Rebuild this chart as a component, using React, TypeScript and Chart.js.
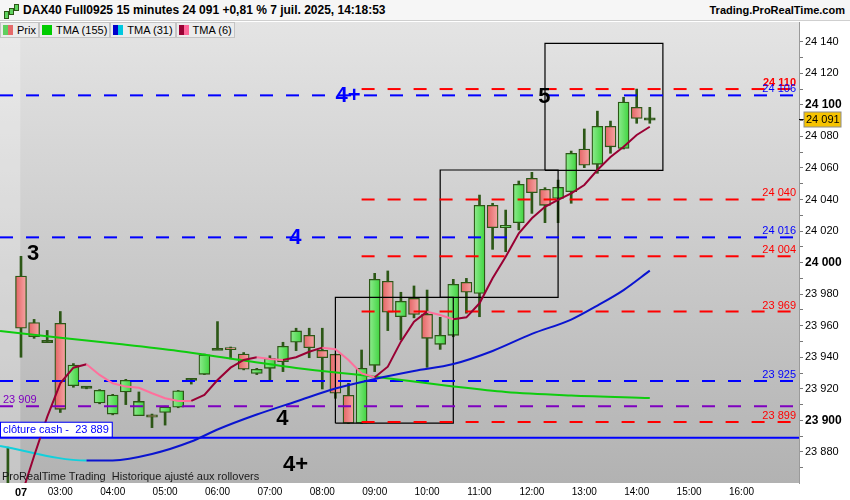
import React, { useEffect, useRef } from 'react';
import { Chart, registerables } from 'chart.js';

Chart.register(...registerables);

const FONT = '"Liberation Sans", Arial, Helvetica, sans-serif';

// ---- candles (15 min) : index -1 = last candle of previous day
const candleIndex = [-1, 0, 1, 2, 3, 4, 5, 6, 7, 8, 9, 10, 11, 12, 13, 14, 15, 16, 17, 18, 19, 20, 21, 22, 23, 24, 25, 26, 27, 28, 29, 30, 31, 32, 33, 34, 35, 36, 37, 38, 39, 40, 41, 42, 43, 44, 45, 46, 47, 48];
const opens = [23850, 23991.5, 23962, 23950, 23961.5, 23922, 23921, 23911, 23904, 23918, 23903, 23903.5, 23905, 23908.3, 23926, 23929.2, 23945, 23946, 23942, 23929.8, 23933, 23937.2, 23949.5, 23953.9, 23944.4, 23941.9, 23915.9, 23898.2, 23934.9, 23988.2, 23965.7, 23977.4, 23967.2, 23948.2, 23953.9, 23987.5, 23980.5, 24036.3, 24022.1, 24025.3, 24053.4, 24046.5, 24040.7, 24045, 24072, 24062.3, 24086.4, 24072.4, 24098.4, 24091];
const highs = [23883, 24004, 23964, 23957, 23969, 23936, 23921.5, 23919.5, 23916.5, 23926, 23918, 23904, 23909, 23919, 23926.5, 23942, 23962.6, 23946.5, 23943, 23933, 23941, 23949.5, 23958.4, 23958.4, 23958.4, 23942, 23923.5, 23944.6, 23993.2, 23994.7, 23981.2, 23985.2, 23982.6, 23965.3, 23989.4, 23990, 24042.8, 24037.6, 24033.3, 24051.7, 24057.2, 24047.5, 24052.3, 24070.7, 24084.7, 24096, 24089.7, 24104.8, 24110, 24098.4];
const lows = [23835, 23940, 23952, 23950, 23905, 23921, 23920, 23910.5, 23903.5, 23910, 23903, 23895.4, 23897, 23908, 23923, 23929, 23945, 23939, 23932, 23929, 23925.6, 23930.9, 23944.2, 23939.7, 23919.9, 23914, 23898, 23898, 23930.9, 23956.9, 23951, 23965, 23933.6, 23945, 23953, 23967.9, 23965.7, 24008.4, 24006.9, 24020.7, 24031.2, 24025.3, 24025.3, 24037.6, 24060.2, 24056.6, 24069.3, 24072, 24088.3, 24088.3];
const closes = [23845, 23958.4, 23953, 23950, 23907, 23935, 23921, 23919, 23916, 23925.4, 23912, 23902, 23908.5, 23918.8, 23926, 23941.6, 23945, 23945, 23932.4, 23932.4, 23939.3, 23947, 23956.7, 23946, 23939.7, 23917.2, 23898.2, 23933, 23989.4, 23968.5, 23975.5, 23967.2, 23952, 23953.9, 23986.2, 23981.2, 24036.3, 24022.1, 24023.6, 24049.6, 24044.3, 24036.3, 24047.7, 24069.3, 24061.7, 24086.4, 24073.4, 24101.8, 24091.4, 24091];

// ---- moving averages
const tma6Index = [0, 1, 2, 3, 4, 5, 6, 7, 8, 9, 10, 11, 12, 13, 14, 15, 16, 17, 18, 19, 20, 21, 22, 23, 24, 25, 26, 27, 28, 29, 30, 31, 32, 33, 34, 35, 36, 37, 38, 39, 40, 41, 42, 43, 44, 45, 46, 47, 48];
const tma6Values = [23851.5, 23877.4, 23902.2, 23923.5, 23933.4, 23935.6, 23928.8, 23923.5, 23921.4, 23920.7, 23917.2, 23914, 23912.3, 23912.3, 23916.1, 23925.6, 23933.4, 23938.3, 23940, 23938.9, 23938.3, 23940, 23943.5, 23946.1, 23945.1, 23938.3, 23929.8, 23927.3, 23934, 23949.9, 23962.5, 23968.9, 23966.8, 23964.1, 23965.3, 23974.2, 23990.1, 24003.7, 24018.6, 24028.1, 24035.4, 24039.7, 24043.9, 24049.2, 24058.7, 24066.9, 24073.4, 24080.9, 24086.1];
const tma31Index = [-1.6, 5, 7, 10, 13, 15, 18, 21, 24, 27, 30, 33, 36, 39, 42, 44, 46, 48];
const tma31Values = [23883.8, 23874.5, 23874.6, 23878.7, 23886.6, 23894.2, 23903.7, 23912, 23920.2, 23926.2, 23931.3, 23935.7, 23944, 23954.8, 23963.9, 23972.8, 23982.6, 23994.9];
const tma155Index = [-1.6, 3, 7.5, 12, 17, 21, 27, 33, 37, 42, 48];
const tma155Values = [23956.7, 23952.4, 23948.4, 23944, 23938, 23933.2, 23927.7, 23921.5, 23918, 23915.8, 23914.2];

// ---- horizontal levels
const levelValues = [24110, 24106, 24040, 24016, 24004, 23969, 23925, 23909, 23899, 23889];
const levelLabels = ['24 110', '24 106', '24 040', '24 016', '24 004', '23 969', '23 925', '23 909', '23 899', 'clôture cash -  23 889'];
const levelStart = [26, null, 26, null, 26, 26, null, null, 26, null];
const levelKind = ['red', 'blue', 'red', 'blue', 'red', 'red', 'blue', 'purple', 'red', 'cash'];

// ---- boxes
const boxStart = [24, 32, 40];
const boxEnd = [33, 41, 49];
const boxLow = [23898.2, 23978, 24058.5];
const boxHigh = [23978, 24058.7, 24139];

// ---- wave labels
const noteText = ['3', '4+', '5', '4', '4', '4+'];
const noteIndex = [0.92, 24.96, 39.96, 20.95, 19.96, 20.95];
const noteValue = [24005.5, 24105.6, 24105.3, 24015.9, 23901.2, 23871.7];
const noteKind = ['black', 'blue', 'black', 'blue', 'black', 'black'];

// ---- axes
const xTickIndex = [0, 3, 7, 11, 15, 19, 23, 27, 31, 35, 39, 43, 47, 51, 55];
const xTickLabels = ['07', '03:00', '04:00', '05:00', '06:00', '07:00', '08:00', '09:00', '10:00', '11:00', '12:00', '13:00', '14:00', '15:00', '16:00'];
const X_MIN = -1.603;
const X_MAX = 59.39;
const Y_MIN = 23860.3;
const Y_MAX = 24152.5;

const COLORS: Record<string, string> = {
  red: '#ff0000',
  blue: '#0000ff',
  purple: '#7f00c0',
  cash: '#0000ff',
  black: '#000000',
};
const WICK = '#2c5716';

const fmt = (v: number) => {
  const n = Math.round(v);
  return `${Math.floor(n / 1000)} ${String(n % 1000).padStart(3, '0')}`;
};

const backgroundPlugin = {
  id: 'prtBackground',
  beforeDatasetsDraw(chart: any) {
    const { ctx, chartArea: a, scales } = chart;
    ctx.save();
    const g = ctx.createLinearGradient(0, a.top, 0, a.bottom);
    g.addColorStop(0, '#e4e4e4');
    g.addColorStop(1, '#b2b2b2');
    ctx.fillStyle = g;
    ctx.fillRect(a.left, a.top, a.right - a.left, a.bottom - a.top);
    const xb = scales.x.getPixelForValue(-0.05);
    ctx.fillStyle = 'rgba(255,255,255,0.25)';
    ctx.fillRect(a.left, a.top, xb - a.left, a.bottom - a.top);
    ctx.restore();
  },
};

const annotationPlugin = {
  id: 'prtAnnotations',
  afterDatasetsDraw(chart: any) {
    const { ctx, chartArea: a, scales } = chart;
    const x = scales.x;
    const y = scales.y;
    ctx.save();
    ctx.beginPath();
    ctx.rect(a.left, a.top, a.right - a.left, a.bottom - a.top);
    ctx.clip();
    levelValues.forEach((v, i) => {
      const py = y.getPixelForValue(v);
      const kind = levelKind[i];
      ctx.fillStyle = COLORS[kind];
      if (kind === 'cash') {
        ctx.font = `11px ${FONT}`;
        const w = ctx.measureText(levelLabels[i]).width + 6;
        ctx.fillStyle = '#ffffff';
        ctx.fillRect(a.left, py - 15, w, 14);
        ctx.strokeStyle = COLORS.cash;
        ctx.lineWidth = 1;
        ctx.strokeRect(a.left + 0.5, py - 15.5, w, 15);
        ctx.fillStyle = COLORS.cash;
        ctx.textAlign = 'left';
        ctx.textBaseline = 'middle';
        ctx.fillText(levelLabels[i], a.left + 3, py - 7.5);
      } else if (kind === 'purple') {
        ctx.font = `11px ${FONT}`;
        ctx.textAlign = 'left';
        ctx.textBaseline = 'alphabetic';
        ctx.fillText(levelLabels[i], a.left + 3, py - 3);
      } else {
        ctx.font = `${i === 0 ? 'bold ' : ''}11px ${FONT}`;
        ctx.textAlign = 'right';
        ctx.textBaseline = 'alphabetic';
        ctx.fillText(levelLabels[i], a.right - 3, py - 3);
      }
    });
    noteText.forEach((t, i) => {
      ctx.fillStyle = COLORS[noteKind[i]];
      ctx.font = `bold 22px ${FONT}`;
      ctx.textAlign = 'center';
      ctx.textBaseline = 'middle';
      ctx.fillText(t, x.getPixelForValue(noteIndex[i]), y.getPixelForValue(noteValue[i]));
    });
    ctx.fillStyle = '#1a1a1a';
    ctx.font = `11px ${FONT}`;
    ctx.textAlign = 'left';
    ctx.textBaseline = 'alphabetic';
    ctx.fillText('ProRealTime Trading  Historique ajusté aux rollovers', a.left + 2, a.bottom - 3);
    ctx.restore();
  },
  afterDraw(chart: any) {
    const { ctx, chartArea: a, scales } = chart;
    const last = closes[closes.length - 1];
    const py = Math.round(scales.y.getPixelForValue(last)) + 0.5;
    ctx.save();
    ctx.strokeStyle = '#000';
    ctx.lineWidth = 1;
    ctx.beginPath();
    ctx.moveTo(a.right, py);
    ctx.lineTo(a.right + 5, py);
    ctx.stroke();
    ctx.fillStyle = '#f6c300';
    ctx.fillRect(a.right + 5, py - 7.5, 37, 15);
    ctx.strokeStyle = '#8c8c8c';
    ctx.strokeRect(a.right + 5, py - 7.5, 37, 15);
    ctx.fillStyle = '#000';
    ctx.font = `11px ${FONT}`;
    ctx.textAlign = 'left';
    ctx.textBaseline = 'middle';
    ctx.fillText(fmt(last), a.right + 7, py + 0.5);
    ctx.restore();
  },
};

function bodyFill(ctx: any) {
  const i = ctx.dataIndex;
  if (i === undefined || i < 0) return '#5fd35f';
  const o = opens[i];
  const c = closes[i];
  if (Math.abs(c - o) < 0.01) return WICK;
  const solid = c > o ? '#5fd35f' : '#ee7a7a';
  const chart = ctx.chart;
  const xs = chart && chart.scales && chart.scales.x;
  if (!xs) return solid;
  const px = xs.getPixelForValue(candleIndex[i]);
  if (!Number.isFinite(px)) return solid;
  const g = chart.ctx.createLinearGradient(px - 5.5, 0, px + 5.5, 0);
  if (c > o) {
    g.addColorStop(0, '#8eeb8e');
    g.addColorStop(1, '#3fd43f');
  } else {
    g.addColorStop(0, '#e46464');
    g.addColorStop(1, '#f6a6a6');
  }
  return g;
}

export default function App() {
  const ref = useRef<HTMLCanvasElement>(null);

  useEffect(() => {
    document.body.style.margin = '0';
    const canvas = ref.current;
    if (!canvas) return;

    const wickData = candleIndex.map((ix, i) => ({ x: ix, y: [lows[i], highs[i]] }));
    const bodyData = candleIndex.map((ix, i) => {
      const o = opens[i];
      const c = closes[i];
      if (Math.abs(c - o) < 1.2) {
        const m = (o + c) / 2;
        return { x: ix, y: [m - 0.7, m + 0.7] };
      }
      return { x: ix, y: [o, c] };
    });

    const levelSets = levelValues.map((v, i) => ({
      type: 'line',
      data: [
        { x: levelStart[i] === null ? X_MIN : (levelStart[i] as number), y: v },
        { x: X_MAX, y: v },
      ],
      borderColor: COLORS[levelKind[i]],
      borderWidth: 2,
      borderDash: levelKind[i] === 'cash' ? [] : [13, 13],
      pointRadius: 0,
      order: 2,
    }));

    const boxSets = boxStart.map((s, i) => ({
      type: 'line',
      data: [
        { x: s, y: boxLow[i] },
        { x: s, y: boxHigh[i] },
        { x: boxEnd[i], y: boxHigh[i] },
        { x: boxEnd[i], y: boxLow[i] },
        { x: s, y: boxLow[i] },
      ],
      borderColor: '#000000',
      borderWidth: 1.2,
      pointRadius: 0,
      order: 2,
    }));

    const chart = new Chart(canvas, {
      type: 'bar',
      data: {
        datasets: [
          {
            type: 'line',
            data: tma6Index.map((ix, i) => ({ x: ix, y: tma6Values[i] })),
            borderWidth: 2,
            pointRadius: 0,
            tension: 0,
            borderColor: '#990033',
            segment: {
              borderColor: (c: any) => (c.p1.parsed.y > c.p0.parsed.y ? '#990033' : '#ff6f9c'),
            },
            order: 0,
          },
          {
            type: 'line',
            data: tma31Index.map((ix, i) => ({ x: ix, y: tma31Values[i] })),
            borderWidth: 2,
            pointRadius: 0,
            cubicInterpolationMode: 'monotone',
            borderColor: '#0000cc',
            segment: {
              borderColor: (c: any) => (c.p1.parsed.y > c.p0.parsed.y ? '#0a14d0' : '#12d0dc'),
            },
            order: 0,
          },
          {
            type: 'line',
            data: tma155Index.map((ix, i) => ({ x: ix, y: tma155Values[i] })),
            borderWidth: 2,
            pointRadius: 0,
            cubicInterpolationMode: 'monotone',
            borderColor: '#0ecc0e',
            order: 0,
          },
          ...levelSets,
          ...boxSets,
          {
            type: 'bar',
            data: bodyData,
            barThickness: 11,
            grouped: false,
            borderColor: WICK,
            borderWidth: 1.3,
            borderSkipped: false,
            backgroundColor: bodyFill,
            order: 3,
          },
          {
            type: 'bar',
            data: wickData,
            barThickness: 2,
            grouped: false,
            backgroundColor: WICK,
            borderWidth: 0,
            order: 4,
          },
        ] as any,
      },
      options: {
        responsive: false,
        animation: false,
        events: [],
        layout: { padding: { top: 22, left: 0, right: 0, bottom: 0 } },
        plugins: {
          legend: { display: false },
          tooltip: { enabled: false },
        },
        scales: {
          x: {
            type: 'linear',
            min: X_MIN,
            max: X_MAX,
            offset: false,
            grid: { display: false, drawTicks: false, tickLength: 0, offset: false },
            border: { display: false },
            afterBuildTicks: (s: any) => {
              s.ticks = xTickIndex.map((v) => ({ value: v }));
            },
            afterFit: (s: any) => {
              s.height = 17;
            },
            ticks: {
              autoSkip: false,
              maxRotation: 0,
              padding: 3,
              color: '#000',
              font: (c: any) => ({
                family: FONT,
                size: c.tick && c.tick.value === 0 ? 11 : 10,
                weight: c.tick && c.tick.value === 0 ? 'bold' : 'normal',
              }),
              callback: (v: any) => {
                const k = xTickIndex.indexOf(Number(v));
                return k >= 0 ? xTickLabels[k] : '';
              },
            },
          },
          y: {
            type: 'linear',
            position: 'right',
            min: Y_MIN,
            max: Y_MAX,
            grid: { drawOnChartArea: false, tickLength: 4, color: '#777' },
            border: { display: true, color: '#9a9a9a' },
            afterBuildTicks: (s: any) => {
              s.ticks = s.ticks.filter((t: any) => Math.abs(t.value - Math.round(t.value / 10) * 10) < 1e-6);
            },
            afterFit: (s: any) => {
              s.width = 51;
            },
            ticks: {
              stepSize: 10,
              autoSkip: false,
              padding: 2,
              color: '#000',
              font: (c: any) => {
                const v = c.tick ? Math.round(c.tick.value) : 0;
                const bold = v % 100 === 0;
                return { family: FONT, size: bold ? 12 : 11, weight: bold ? 'bold' : 'normal' };
              },
              callback: (v: any) => {
                const n = Math.round(Number(v));
                return n % 20 === 0 ? fmt(n) : '';
              },
            },
          },
        },
      } as any,
      plugins: [backgroundPlugin, annotationPlugin],
    });

    return () => chart.destroy();
  }, []);

  const legendItems = [
    { label: 'Prix', a: '#5fcf5f', b: '#e56a6a' },
    { label: 'TMA (155)', a: '#00cc00', b: '#00cc00' },
    { label: 'TMA (31)', a: '#0000cc', b: '#00c8e0' },
    { label: 'TMA (6)', a: '#990033', b: '#ff6699' },
  ];

  return (
    <div
      style={{
        position: 'relative',
        width: 850,
        height: 500,
        overflow: 'hidden',
        background: '#ffffff',
        fontFamily: FONT,
      }}
    >
      <canvas ref={ref} width={850} height={500} style={{ position: 'absolute', left: 0, top: 0, width: 850, height: 500 }} />
      <div
        style={{
          position: 'absolute',
          left: 0,
          top: 0,
          width: 850,
          height: 21,
          background: '#f6f6f6',
          borderBottom: '1px solid #cfcfcf',
          boxSizing: 'border-box',
        }}
      >
        <div style={{ position: 'absolute', left: 4, top: 11, width: 3, height: 6, background: '#5fd35f', border: '1px solid #2c5716' }} />
        <div style={{ position: 'absolute', left: 9, top: 8, width: 3, height: 5, background: '#5fd35f', border: '1px solid #2c5716' }} />
        <div style={{ position: 'absolute', left: 14, top: 4, width: 3, height: 5, background: '#5fd35f', border: '1px solid #2c5716' }} />
        <div
          style={{
            position: 'absolute',
            left: 23,
            top: 0,
            lineHeight: '21px',
            fontSize: 12,
            fontWeight: 'bold',
            color: '#000',
            whiteSpace: 'nowrap',
          }}
        >
          DAX40 Full0925 15 minutes 24 091 +0,81 % 7 juil. 2025, 14:18:53
        </div>
        <div
          style={{
            position: 'absolute',
            right: 5,
            top: 0,
            lineHeight: '21px',
            fontSize: 11,
            fontWeight: 'bold',
            color: '#000',
            whiteSpace: 'nowrap',
          }}
        >
          Trading.ProRealTime.com
        </div>
      </div>
      <div style={{ position: 'absolute', left: 0, top: 22, display: 'flex', height: 16 }}>
        {legendItems.map((it) => (
          <div
            key={it.label}
            style={{
              display: 'flex',
              alignItems: 'center',
              height: 16,
              boxSizing: 'border-box',
              border: '1px solid #c4c4c4',
              background: '#ececec',
              padding: '0 2px 0 2px',
              fontSize: 11,
              color: '#000',
              whiteSpace: 'nowrap',
            }}
          >
            <span style={{ display: 'inline-block', width: 5, height: 10, background: it.a }} />
            <span style={{ display: 'inline-block', width: 5, height: 10, background: it.b, marginRight: 4 }} />
            {it.label}
          </div>
        ))}
      </div>
    </div>
  );
}
